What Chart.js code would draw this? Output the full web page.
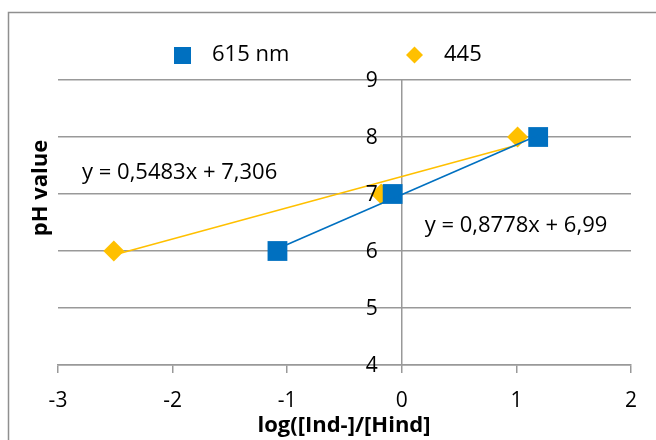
<!DOCTYPE html>
<html>
<head>
<meta charset="utf-8">
<script src="https://cdn.jsdelivr.net/npm/chart.js@4/dist/chart.umd.min.js"></script>
<style>
  html, body { margin: 0; padding: 0; background: #fff; }
  #wrap { width: 656px; height: 440px; position: relative; }
</style>
</head>
<body>
<div id="wrap"><canvas id="phChart"></canvas></div>
<script>
// values
const blueX = [-1.085, -0.08, 1.19];
const blueY = [6, 7, 8];
const yellowX = [-2.513, -0.18, 1.01];
const yellowY = [6, 7, 8];
// trendline end points (as drawn)
const blueTrendX = [-1.085, 1.19];
const blueTrendY = [6.04, 8.03];
const yellowTrendX = [-2.513, 1.01];
const yellowTrendY = [5.93, 7.86];

const seriesNames = ['615 nm', '445'];
const equations = ['y = 0,5483x + 7,306', 'y = 0,8778x + 6,99'];
const eqAnchorX = [-2.79, 0.2];
const eqAnchorY = [7.37, 6.44];

const xTitle = 'log([Ind-]/[Hind]';
const yTitle = 'pH value';

const BLUE = '#0070C0';
const YELLOW = '#FFC000';
const GRID = '#999999';
const FONT = '"Open Sans", sans-serif';

const toPoints = (xs, ys) => xs.map((x, i) => ({ x: x, y: ys[i] }));

const extras = {
    id: 'extras',
    beforeDraw(chart) {
        const ctx = chart.ctx;
        ctx.save();
        ctx.strokeStyle = '#8f8f8f';
        ctx.lineWidth = 1.5;
        ctx.beginPath();
        ctx.moveTo(8.5, 440);
        ctx.lineTo(8.5, 12.5);
        ctx.lineTo(656, 12.5);
        ctx.stroke();
        ctx.restore();
    },
    afterDraw(chart) {
        const ctx = chart.ctx;
        const xs = chart.scales.x, ys = chart.scales.y;
        ctx.save();
        ctx.fillStyle = '#000';
        ctx.textBaseline = 'middle';

        // y tick labels, left of the axis at x = 0
        ctx.font = '21px ' + FONT;
        ctx.textAlign = 'right';
        const axisX = xs.getPixelForValue(0);
        ys.ticks.forEach(t => {
            ctx.fillText(String(t.value), axisX - 24, ys.getPixelForValue(t.value) + 1);
        });

        // legend
        ctx.font = '22px ' + FONT;
        ctx.textAlign = 'left';
        ctx.fillStyle = BLUE;
        ctx.fillRect(174, 47, 17, 17);
        ctx.fillStyle = '#000';
        ctx.fillText(seriesNames[0], 212, 55);
        ctx.fillStyle = YELLOW;
        ctx.beginPath();
        ctx.moveTo(414.5, 46.5);
        ctx.lineTo(423, 55);
        ctx.lineTo(414.5, 63.5);
        ctx.lineTo(406, 55);
        ctx.closePath();
        ctx.fill();
        ctx.fillStyle = '#000';
        ctx.fillText(seriesNames[1], 444, 55);

        // equations
        equations.forEach((t, i) => {
            ctx.fillText(t, xs.getPixelForValue(eqAnchorX[i]), ys.getPixelForValue(eqAnchorY[i]));
        });

        // axis titles
        ctx.font = 'bold 22px ' + FONT;
        ctx.textAlign = 'center';
        ctx.fillText(xTitle, 344, 426);
        ctx.translate(41, 188);
        ctx.rotate(-Math.PI / 2);
        ctx.fillText(yTitle, 0, 0);
        ctx.restore();
    }
};

new Chart(document.getElementById('phChart'), {
    type: 'scatter',
    data: {
        datasets: [
            {
                label: seriesNames[0] + ' trend',
                data: toPoints(blueTrendX, blueTrendY),
                showLine: true,
                borderColor: BLUE,
                borderWidth: 1.6,
                pointRadius: 0,
                order: 0
            },
            {
                label: seriesNames[1] + ' trend',
                data: toPoints(yellowTrendX, yellowTrendY),
                showLine: true,
                borderColor: YELLOW,
                borderWidth: 1.6,
                pointRadius: 0,
                order: 0
            },
            {
                label: seriesNames[0],
                data: toPoints(blueX, blueY),
                pointStyle: 'rect',
                pointRadius: 14,
                pointHoverRadius: 14,
                backgroundColor: BLUE,
                borderColor: BLUE,
                borderWidth: 0,
                order: 1
            },
            {
                label: seriesNames[1],
                data: toPoints(yellowX, yellowY),
                pointStyle: 'rectRot',
                pointRadius: 10.5,
                pointHoverRadius: 10.5,
                backgroundColor: YELLOW,
                borderColor: YELLOW,
                borderWidth: 0,
                order: 2
            }
        ]
    },
    options: {
        responsive: true,
        maintainAspectRatio: false,
        animation: false,
        layout: { padding: { left: 58, right: 25, top: 80, bottom: 0 } },
        plugins: {
            legend: { display: false },
            tooltip: { enabled: false }
        },
        scales: {
            x: {
                type: 'linear',
                min: -3,
                max: 2,
                afterFit(scale) { scale.height = 75; },
                ticks: { stepSize: 1, color: '#000', padding: 15, font: { family: FONT, size: 21 } },
                grid: { drawOnChartArea: false, drawTicks: true, tickLength: 8, color: GRID, lineWidth: 1.5 },
                border: { display: true, color: GRID, width: 1.5 }
            },
            y: {
                type: 'linear',
                position: { x: 0 },
                min: 4,
                max: 9,
                ticks: { stepSize: 1, display: false },
                grid: { color: GRID, lineWidth: 1.5, drawTicks: false },
                border: { display: true, color: GRID, width: 1.5 }
            }
        }
    },
    plugins: [extras]
});
</script>
</body>
</html>
